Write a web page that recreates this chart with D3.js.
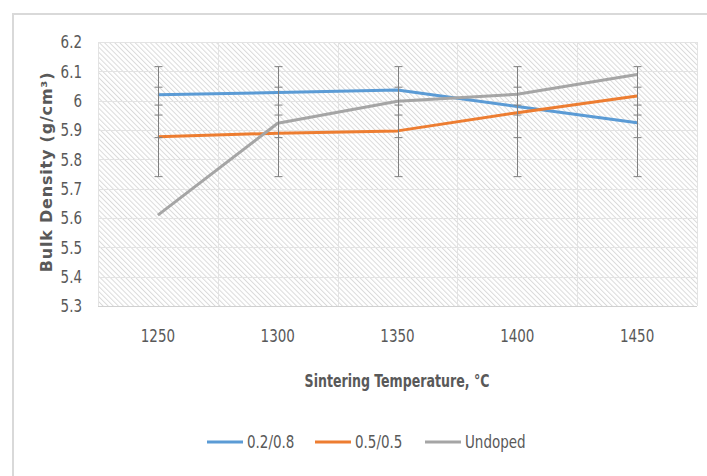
<!DOCTYPE html>
<html lang="en">
<head>
    <meta charset="UTF-8">
    <title>Bulk Density vs Sintering Temperature</title>
    <script src="https://d3js.org/d3.v7.min.js"></script>
    <style>
        body {
            margin: 0;
            background: white;
        }

        .tick-label {
            font-family: "DejaVu Sans Condensed", sans-serif;
            font-size: 15px;
            fill: #595959;
            /* tall narrow look of the original labels */
            transform-box: fill-box;
            transform-origin: center;
            transform: scaleY(1.2);
        }

        .axis-title {
            font-weight: bold;
            fill: #595959;
        }
    </style>
</head>
<body>
    <div id="chart"></div>

    <script>
        // categories and tick values
        const temperatures = ["1250", "1300", "1350", "1400", "1450"];
        const yTicks = [5.3, 5.4, 5.5, 5.6, 5.7, 5.8, 5.9, 6, 6.1, 6.2];

        // series values
        const seriesNames = ["0.2/0.8", "0.5/0.5", "Undoped"];
        const doped28 = [6.02, 6.028, 6.036, 5.98, 5.925];
        const doped55 = [5.877, 5.889, 5.897, 5.959, 6.016];
        const undoped = [5.61, 5.923, 5.998, 6.022, 6.089];

        // error bar ranges (same for every point of a series)
        const errLow = [5.951, 5.874, 5.741];
        const errHigh = [6.046, 5.985, 6.116];

        const colors = ["#5b9bd5", "#ed7d31", "#a5a5a5"];
        const allSeries = [doped28, doped55, undoped];

        const W = 707, H = 476;
        const margin = { top: 42, right: 10, bottom: 170, left: 98 };
        const width = W - margin.left - margin.right,
              height = H - margin.top - margin.bottom;

        const svg = d3.select("#chart")
            .append("svg")
            .attr("width", W)
            .attr("height", H);

        // outer chart border
        svg.append("rect")
            .attr("x", 13)
            .attr("y", 14)
            .attr("width", W)
            .attr("height", H)
            .attr("fill", "none")
            .attr("stroke", "#d9d9d9")
            .attr("stroke-width", 2);

        // hatch pattern for the plot area
        const defs = svg.append("defs");
        defs.append("pattern")
            .attr("id", "hatch")
            .attr("patternUnits", "userSpaceOnUse")
            .attr("width", 3.6)
            .attr("height", 3.6)
            .attr("patternTransform", "rotate(-45)")
            .append("line")
            .attr("x1", 0.5).attr("y1", 0)
            .attr("x2", 0.5).attr("y2", 3.6)
            .attr("stroke", "#dadada")
            .attr("stroke-width", 1);

        const g = svg.append("g")
            .attr("transform", `translate(${margin.left},${margin.top})`);

        const x = d3.scaleBand()
            .domain(temperatures)
            .range([0, width])
            .padding(0);

        const y = d3.scaleLinear()
            .domain([5.3, 6.2])
            .range([height, 0]);

        g.append("rect")
            .attr("width", width)
            .attr("height", height)
            .attr("fill", "url(#hatch)");

        // grid lines
        g.selectAll(".hgrid")
            .data(yTicks)
            .enter().append("line")
            .attr("class", "hgrid")
            .attr("x1", 0).attr("x2", width)
            .attr("y1", d => Math.round(y(d)) + 0.5)
            .attr("y2", d => Math.round(y(d)) + 0.5)
            .attr("stroke", d => d === 5.3 ? "#d0d0d0" : "#e3e3e3")
            .attr("stroke-width", 1);

        const vBounds = temperatures.map(t => x(t)).concat([width]);
        g.selectAll(".vgrid")
            .data(vBounds)
            .enter().append("line")
            .attr("class", "vgrid")
            .attr("x1", d => Math.round(d) + 0.5)
            .attr("x2", d => Math.round(d) + 0.5)
            .attr("y1", 0).attr("y2", height)
            .attr("stroke", "#e3e3e3")
            .attr("stroke-width", 1);

        // Y axis labels
        const yAxis = g.append("g")
            .call(d3.axisLeft(y).tickValues(yTicks).tickSize(0).tickPadding(16)
                .tickFormat(d => d3.format("")(+d.toFixed(1))));
        yAxis.select(".domain").remove();
        yAxis.selectAll("text").attr("class", "tick-label").attr("fill", null);

        // X axis labels
        const xAxis = g.append("g")
            .attr("transform", `translate(0,${height})`)
            .call(d3.axisBottom(x).tickSize(0).tickPadding(24));
        xAxis.select(".domain").remove();
        xAxis.selectAll("text").attr("class", "tick-label").attr("fill", null);

        // series lines and error bars
        const line = d3.line()
            .x((d, i) => x(temperatures[i]) + x.bandwidth() / 2)
            .y(d => y(d));

        allSeries.forEach((values, s) => {
            g.append("path")
                .datum(values)
                .attr("d", line)
                .attr("fill", "none")
                .attr("stroke", colors[s])
                .attr("stroke-width", 3)
                .attr("stroke-linejoin", "round");

            const eb = g.append("g").selectAll("g")
                .data(temperatures)
                .enter().append("g")
                .attr("transform", d => `translate(${Math.round(x(d) + x.bandwidth() / 2) + 0.5},0)`);
            eb.append("line")
                .attr("y1", y(errLow[s])).attr("y2", y(errHigh[s]))
                .attr("stroke", "#808080");
            [errLow[s], errHigh[s]].forEach(v => {
                eb.append("line")
                    .attr("x1", -4).attr("x2", 4)
                    .attr("y1", y(v)).attr("y2", y(v))
                    .attr("stroke", "#808080");
            });
        });

        // axis titles
        svg.append("text")
            .attr("class", "axis-title")
            .attr("transform", `translate(52,${margin.top + height / 2 - 2}) rotate(-90)`)
            .attr("text-anchor", "middle")
            .style("font-family", "'DejaVu Sans', sans-serif")
            .style("font-size", "16px")
            .style("letter-spacing", "0.8px")
            .text("Bulk Density (g/cm³)");

        svg.append("text")
            .attr("class", "axis-title tick-label")
            .attr("x", 397)
            .attr("y", 386)
            .attr("text-anchor", "middle")
            .style("font-size", "14px")
            .style("font-weight", "bold")
            .text("Sintering Temperature, °C");

        // legend
        const legendX = [207, 315, 425];
        const legend = svg.append("g")
            .selectAll("g")
            .data(seriesNames)
            .enter().append("g")
            .attr("transform", (d, i) => `translate(${legendX[i]},442)`);
        legend.append("line")
            .attr("x1", 0).attr("x2", 36)
            .attr("stroke", (d, i) => colors[i])
            .attr("stroke-width", 3);
        legend.append("text")
            .attr("class", "tick-label")
            .attr("x", 40)
            .attr("dy", "0.35em")
            .text(d => d);
    </script>
</body>
</html>
